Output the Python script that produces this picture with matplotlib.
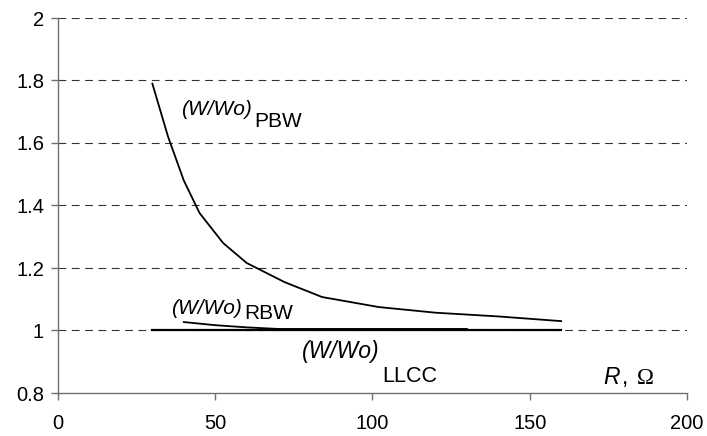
import matplotlib
matplotlib.use("Agg")
import matplotlib.pyplot as plt

plt.rcParams['font.family'] = ['Liberation Sans', 'DejaVu Sans']

# Data
r_pbw = [30, 35, 40, 45, 52.5, 60, 72, 84, 102, 120, 140, 160]
w_pbw = [1.79, 1.62, 1.48, 1.376, 1.28, 1.216, 1.155, 1.107, 1.075, 1.057, 1.045, 1.03]
r_rbw = [40, 50, 60, 70, 100, 130]
w_rbw = [1.027, 1.017, 1.01, 1.005, 1.005, 1.005]
r_llcc = [30, 160]
w_llcc = [1.0, 1.0]

xticks = [0, 50, 100, 150, 200]
yticks = [0.8, 1.0, 1.2, 1.4, 1.6, 1.8, 2.0]
ytick_labels = ['0.8', '1', '1.2', '1.4', '1.6', '1.8', '2']

W, H = 707, 436
fig = plt.figure(figsize=(W / 100, H / 100), dpi=100)
ax = fig.add_axes([58 / W, 1 - 393 / H, (687 - 58) / W, (393 - 18) / H])

for y in yticks[1:]:
    ax.axhline(y, color='#333333', lw=0.8, ls=(0, (7, 5)), zorder=1)

ax.plot(r_pbw, w_pbw, color='black', lw=1.3, zorder=3)
ax.plot(r_rbw, w_rbw, color='black', lw=1.3, zorder=3)
ax.plot(r_llcc, w_llcc, color='black', lw=1.6, zorder=3)

ax.set_xlim(0, 200)
ax.set_ylim(0.8, 2.0)
ax.set_xticks(xticks)
ax.set_yticks(yticks)
ax.set_yticklabels(ytick_labels)
for s in ['top', 'right']:
    ax.spines[s].set_visible(False)
for s in ['left', 'bottom']:
    ax.spines[s].set_color('#707070')
    ax.spines[s].set_linewidth(1.0)
ax.tick_params(axis='both', colors='#707070', labelcolor='black', labelsize=14.5,
               length=5, width=1.0, direction='out')
ax.tick_params(axis='x', pad=10)
ax.tick_params(axis='y', pad=5)
ax.set_facecolor('white')

renderer = fig.canvas.get_renderer()


def ptext(x, y, s, size=15, **kw):
    return fig.text(x / W, 1 - y / H, s, va='baseline', ha='left', fontsize=size, **kw)


def label(x, y, sub, dy, gap=2, size=15, subsize=15):
    t = ptext(x, y, '(W/Wo)', size=size, style='italic')
    bb = t.get_window_extent(renderer)
    ptext(bb.x1 + gap, y + dy, sub, size=subsize)

# labels (pixel positions of baselines)
label(181, 115, 'PBW', 12)
label(171, 314, 'RBW', 5)
label(302, 358, 'LLCC', 24, gap=3, size=16.5, subsize=15.5)
t = ptext(603, 384, 'R', style='italic', size=16.5)
bb = t.get_window_extent(renderer)
t2 = ptext(bb.x1 + 2, 384, ',', size=16.5)
bb2 = t2.get_window_extent(renderer)
ptext(bb2.x1 + 9, 384, '\u03a9', size=16.5, family='Liberation Serif')

fig.savefig('out.png', dpi=100)
